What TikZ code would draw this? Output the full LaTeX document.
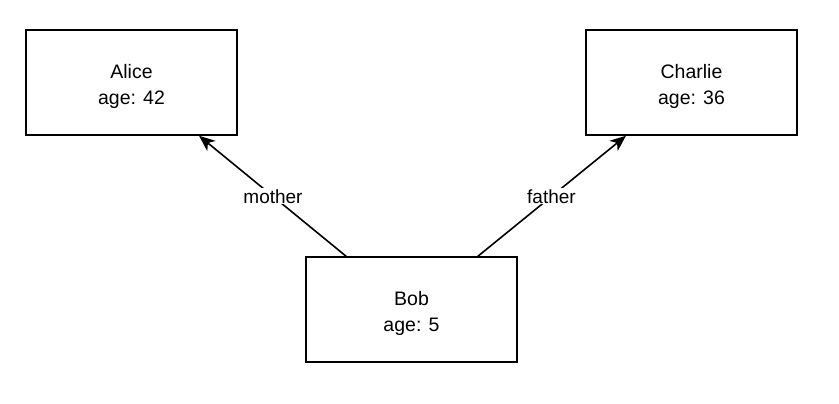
\documentclass[tikz,border=0pt]{standalone}
\usepackage{fontspec}
\setmainfont{Liberation Sans}
\usetikzlibrary{arrows.meta}
\begin{document}
\begin{tikzpicture}[x=1pt,y=-1pt,
  box/.style={draw, line width=1.5pt, minimum width=211pt, minimum height=105pt, inner sep=0pt, align=center, font=\fontsize{19.5}{26}\selectfont},
  txt/.style={align=center, inner sep=0pt, font=\fontsize{19.5}{26}\selectfont},
  rel/.style={draw, line width=1.6pt, -{Stealth[length=16pt,width=13pt,inset=4.5pt]}},
  lbl/.style={fill=white, inner sep=1pt, font=\fontsize{19}{22}\selectfont}]
\useasboundingbox (0,0) rectangle (839,404);
\node[box] (alice) at (131.5,82.5) {};
\node[txt] (alicet) at (131.5,86) {Alice\\age: 42};
\node[box] (charlie) at (691.5,82.5) {};
\node[txt] (charliet) at (691.5,86) {Charlie\\age: 36};
\node[box] (bob) at (411.5,309.5) {};
\node[txt] (bobt) at (411.5,313) {Bob\\age: 5};
\coordinate (bm) at (347,257);
\coordinate (bf) at (477,257);
\draw[rel] (bm) -- node[lbl, pos=0.5] {mother} (alice.south -| 199,0);
\draw[rel] (bf) -- node[lbl, pos=0.5] {father} (charlie.south -| 626,0);
\end{tikzpicture}
\end{document}
